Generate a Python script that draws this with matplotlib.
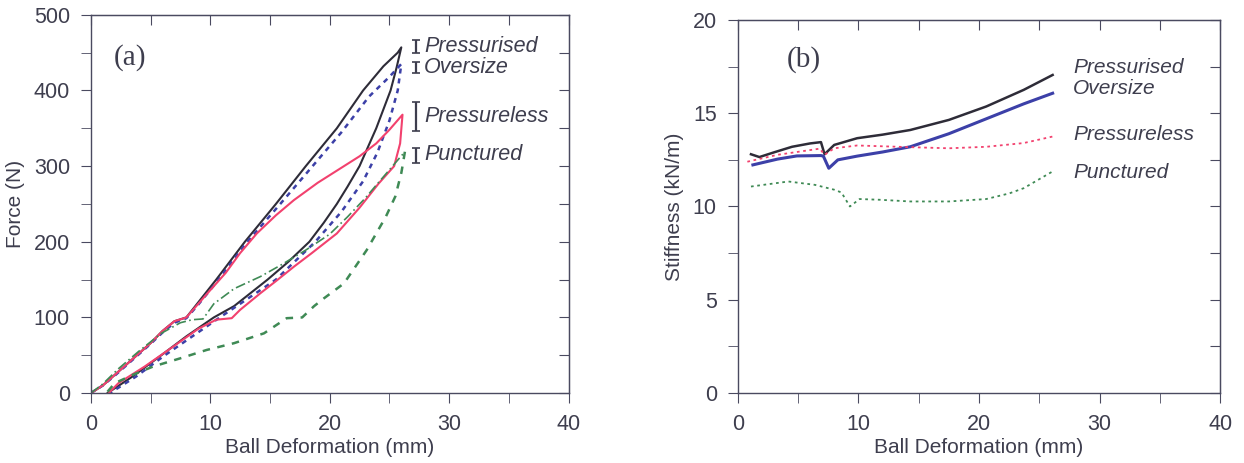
import matplotlib.pyplot as plt
from matplotlib.ticker import MultipleLocator

# ---- (a) force / deformation loops, loading then unloading branch ----
pres_load_x = [0, 1, 2, 3, 4, 5, 6, 7, 8, 9, 10.5, 12.9, 15.5, 18, 20.6, 22.8, 24.5, 25.7, 26]
pres_load_f = [0, 10, 24, 38, 52, 66, 82, 95, 100, 120, 150, 200, 250, 300, 350, 400, 432, 450, 457]
pres_unl_x = [26, 25.6, 25.1, 23.9, 22.5, 21.5, 20.6, 19.5, 18.3, 16.5, 14.8, 12, 10.3, 8, 5.9, 3.5, 1.4]
pres_unl_f = [457, 430, 400, 350, 300, 273, 250, 225, 200, 173, 150, 115, 100, 75, 50, 22, 0]

over_load_x = [0, 1, 2, 3, 4, 5, 6, 7, 8, 9, 10.6, 13, 15.7, 18.3, 21, 23.3, 25, 26]
over_load_f = [0, 10, 23, 37, 51, 65, 80, 93, 99, 117, 148, 198, 247, 295, 345, 392, 418, 435]
over_unl_x = [26, 25.7, 25, 24, 22.8, 21, 18.8, 15.5, 12.5, 10.8, 8.5, 6.2, 3.8, 1.6]
over_unl_f = [435, 400, 360, 318, 280, 240, 200, 150, 118, 100, 75, 50, 22, 0]

less_load_x = [0, 1, 2, 3, 4, 5, 6, 7, 8, 9, 10, 11.3, 12.5, 13.9, 15.5, 17, 19, 21.2, 22.5, 23.9, 25, 26.1]
less_load_f = [0, 10, 24, 38, 52, 66, 82, 95, 100, 118, 136, 159, 185, 211, 235, 255, 278, 300, 313, 330, 348, 368]
less_unl_x = [26.1, 25.9, 25.4, 24.1, 22.5, 20.6, 18.5, 17, 15.5, 14.2, 12.5, 11.8, 10.5, 9, 6.5, 4.5, 2.3, 1.5]
less_unl_f = [368, 330, 300, 277, 245, 211, 185, 167, 148, 132, 110, 99, 97, 85, 57, 35, 13, 0]

punc_load_x = [0, 1, 2.3, 4, 5.9, 7.5, 8.5, 9.4, 10.3, 12, 14.2, 16, 18, 20, 21.5, 23, 23.8, 25, 25.7, 26.3]
punc_load_f = [0, 12, 32, 55, 79, 93, 97, 98, 118, 138, 154, 170, 189, 210, 233, 258, 273, 295, 308, 319]
punc_unl_x = [26.3, 26.1, 26, 25.5, 24.7, 23.1, 21.2, 19.5, 18.7, 17.7, 16.4, 14.5, 12, 9.7, 7.5, 5.2, 3.5, 2, 1.3]
punc_unl_f = [319, 300, 291, 260, 233, 189, 145, 125, 115, 100, 99, 79, 66, 57, 46, 35, 24, 13, 0]

# ---- (b) stiffness ----
st_pres_x = [1.1, 1.8, 3, 4.5, 6, 6.9, 7.2, 8, 9.9, 12, 14.3, 17.5, 20.6, 23.7, 26.1]
st_pres_y = [12.8, 12.65, 12.9, 13.2, 13.38, 13.45, 12.8, 13.3, 13.66, 13.85, 14.1, 14.64, 15.36, 16.25, 17.05]
st_over_x = [1.26, 3.3, 4.9, 6.9, 7.1, 7.55, 8.3, 9.9, 12, 14.3, 17.5, 20.6, 23.7, 26.1]
st_over_y = [12.23, 12.54, 12.71, 12.73, 12.7, 12.05, 12.5, 12.7, 12.92, 13.2, 13.9, 14.7, 15.5, 16.07]
st_less_x = [0.8, 3.3, 6.8, 7.2, 8, 9.9, 14.3, 17.5, 20.6, 23.7, 26.1]
st_less_y = [12.4, 12.77, 13.1, 12.77, 13.12, 13.27, 13.18, 13.12, 13.2, 13.4, 13.75]
st_punc_x = [1.1, 4.2, 6.4, 8, 8.6, 9.3, 10.1, 11.8, 14.3, 17.5, 20.6, 22.5, 23.7, 26.1]
st_punc_y = [11.07, 11.34, 11.16, 10.9, 10.75, 10.0, 10.4, 10.36, 10.27, 10.27, 10.4, 10.7, 10.98, 11.88]

names = ['Pressurised', 'Oversize', 'Pressureless', 'Punctured']
bar_lo = [449, 423, 346, 304]
bar_hi = [467, 438, 385, 324]
lab_a_y = [458, 430, 366, 315]
lab_b_y = [17.45, 16.3, 13.84, 11.8]

c_black = '#2e2c38'
c_blue = '#3c40a8'
c_pink = '#f2416e'
c_green = '#3f8a55'
c_axis = '#4a4a60'
c_text = '#3e3e4e'

plt.rcParams['font.family'] = ['Liberation Sans', 'DejaVu Sans']
fig = plt.figure(figsize=(12.44, 4.63), dpi=100)
ax1 = fig.add_axes([0.073, 0.151, 0.384, 0.817])
ax2 = fig.add_axes([0.593, 0.151, 0.388, 0.806])


def style(ax, xmaj, ymaj):
    ax.xaxis.set_major_locator(MultipleLocator(xmaj))
    ax.xaxis.set_minor_locator(MultipleLocator(xmaj / 2))
    ax.yaxis.set_major_locator(MultipleLocator(ymaj))
    ax.yaxis.set_minor_locator(MultipleLocator(ymaj / 2))
    for s in ax.spines.values():
        s.set_color(c_axis)
        s.set_linewidth(1.0)
    ax.tick_params(which='both', direction='out', color=c_axis, labelcolor=c_text,
                   labelsize=15.5, top=False, right=False)
    ax.tick_params(which='major', length=7, pad=8)
    ax.tick_params(which='minor', length=7)
    # inward ticks on top and right
    sec = ax.secondary_yaxis('right')
    sec.yaxis.set_major_locator(MultipleLocator(ymaj / 2))
    sec.tick_params(direction='in', length=7, color=c_axis, labelright=False)
    sec.spines['right'].set_color(c_axis)
    sect = ax.secondary_xaxis('top')
    sect.xaxis.set_major_locator(MultipleLocator(xmaj / 2))
    sect.tick_params(direction='in', length=7, color=c_axis, labeltop=False)
    sect.spines['top'].set_color(c_axis)
    ax.set_xlabel('Ball Deformation (mm)', fontsize=15, color=c_text, labelpad=2)


# panel (a)
ax1.plot(pres_load_x + pres_unl_x, pres_load_f + pres_unl_f, color=c_black, lw=1.5)
ax1.plot(over_load_x + over_unl_x, over_load_f + over_unl_f, color=c_blue, lw=1.8,
         ls=(0, (2, 2)))
ax1.plot(less_load_x + less_unl_x, less_load_f + less_unl_f, color=c_pink, lw=1.5)
ax1.plot(punc_load_x, punc_load_f, color=c_green, lw=1.2, ls=(0, (6, 2, 1, 2)))
ax1.plot(punc_unl_x, punc_unl_f, color=c_green, lw=1.8, ls=(0, (3, 3)))
ax1.set_xlim(0, 40)
ax1.set_ylim(0, 500)
style(ax1, 10, 100)
ax1.set_ylabel('Force (N)', fontsize=15, color=c_text, labelpad=6)
for lo, hi in zip(bar_lo, bar_hi):
    ax1.errorbar([27.2], [(lo + hi) / 2], yerr=[[(hi - lo) / 2], [(hi - lo) / 2]],
                 fmt='none', ecolor=c_text, elinewidth=1.6, capsize=3, capthick=1.2)
for n, y in zip(names, lab_a_y):
    ax1.text(27.9, y, n, fontsize=15.5, style='italic', color=c_text, va='center')
ax1.text(3.3, 443, '(a)', fontsize=21, family=['Liberation Serif'], color=c_text,
         ha='center', va='center')

# panel (b)
ax2.plot(st_pres_x, st_pres_y, color=c_black, lw=1.8)
ax2.plot(st_over_x, st_over_y, color=c_blue, lw=2.2)
ax2.plot(st_less_x, st_less_y, color=c_pink, lw=1.3, ls=(0, (1.5, 2)))
ax2.plot(st_punc_x, st_punc_y, color=c_green, lw=1.3, ls=(0, (1.5, 2)))
ax2.set_xlim(0, 40)
ax2.set_ylim(0, 20)
style(ax2, 10, 5)
ax2.set_ylabel('Stiffness (kN/m)', fontsize=15, color=c_text, labelpad=6)
for n, y in zip(names, lab_b_y):
    ax2.text(27.8, y, n, fontsize=15, style='italic', color=c_text, va='center')
ax2.text(5.5, 17.9, '(b)', fontsize=21, family=['Liberation Serif'], color=c_text,
         ha='center', va='center')

fig.savefig('out.png', dpi=100)
